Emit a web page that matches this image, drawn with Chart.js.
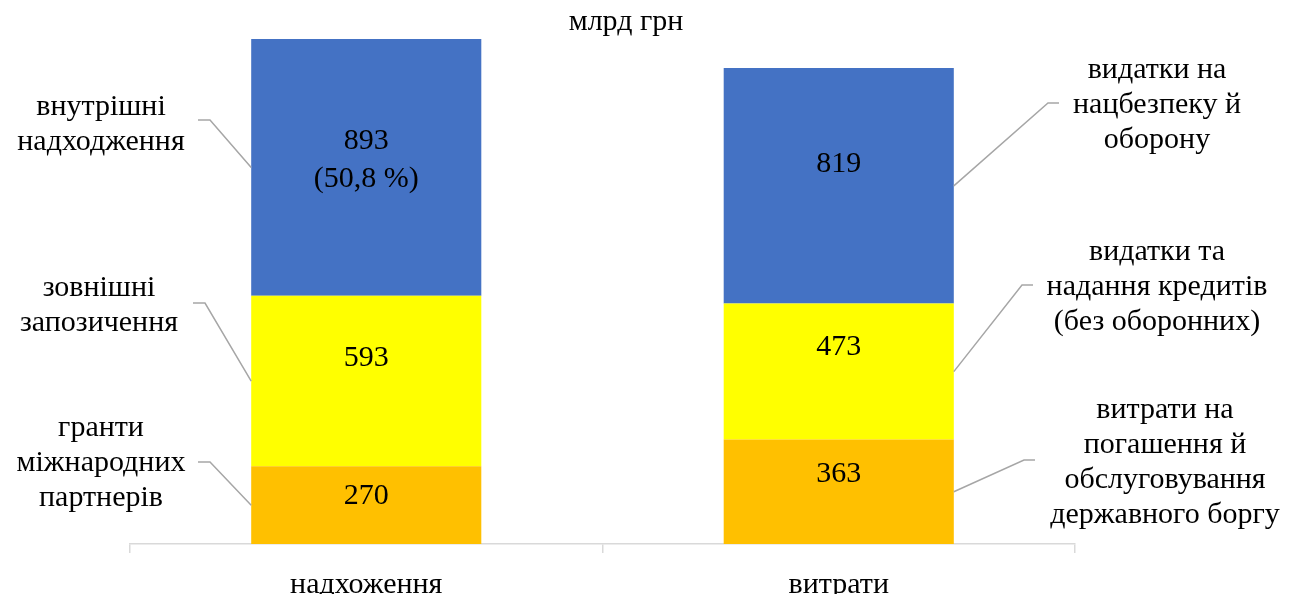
<!DOCTYPE html>
<html>
<head>
<meta charset="utf-8">
<script src="https://cdn.jsdelivr.net/npm/chart.js@4.4.1/dist/chart.umd.min.js"></script>
<style>
  html, body { margin: 0; padding: 0; overflow: hidden; background: #fff; }
  #wrap { position: relative; width: 1292px; height: 617px; }
</style>
</head>
<body>
<div id="wrap"><canvas id="budgetChart"></canvas></div>
<script>
// categories and values (bn UAH)
const categories = ['надхоження', 'витрати'];
const bottomValues = [270, 363];
const middleValues = [593, 473];
const topValues = [893, 819];
const topShare = ['(50,8 %)', ''];
const unitLabel = 'млрд грн';

// point labels: [left bar, right bar] per series, bottom -> top
const leftNames = [
  ['гранти', 'міжнародних', 'партнерів'],
  ['зовнішні', 'запозичення'],
  ['внутрішні', 'надходження']
];
const rightNames = [
  ['витрати на', 'погашення й', 'обслуговування', 'державного боргу'],
  ['видатки та', 'надання кредитів', '(без оборонних)'],
  ['видатки на', 'нацбезпеку й', 'оборону']
];

const FONT = '"Liberation Serif", "Times New Roman", serif';
const totals = categories.map((c, i) => bottomValues[i] + middleValues[i] + topValues[i]);

// text boxes for the callouts (first line centre y, box centre x, elbow of leader)
const leftBoxes = [
  { cx: 101, y: 428, ey: 462, ex: 198 },
  { cx: 99, y: 288, ey: 303, ex: 193 },
  { cx: 101, y: 107, ey: 120, ex: 198 }
];
const rightBoxes = [
  { cx: 1165, y: 410, ey: 460, ex: 1035 },
  { cx: 1157, y: 252, ey: 285, ex: 1033 },
  { cx: 1157, y: 70, ey: 103, ex: 1059 }
];
const valueNudge = [[-9, -18], [-23, -24], [-7, -22]];
const LINE_H = 35;

const labelsPlugin = {
  id: 'labels',
  afterDatasetsDraw(chart) {
    const ctx = chart.ctx;
    ctx.save();
    ctx.fillStyle = '#000';
    ctx.textAlign = 'center';
    ctx.textBaseline = 'middle';
    ctx.font = '30px ' + FONT;
    ctx.fillText(unitLabel, 626, 22);

    chart.data.datasets.forEach((ds, i) => {
      const meta = chart.getDatasetMeta(i);
      meta.data.forEach((bar, j) => {
        const p = bar.getProps(['x', 'y', 'base', 'width'], true);
        const mid = (p.y + p.base) / 2;
        // value inside the bar
        const lines = [String(ds.data[j])];
        if (i === 2 && topShare[j]) lines.push(topShare[j]);
        const cy = mid + valueNudge[i][j] - (lines.length - 1) * 38 / 2;
        lines.forEach((t, k) => ctx.fillText(t, p.x, cy + k * 38));

        // callout with leader line
        const left = j === 0;
        const box = left ? leftBoxes[i] : rightBoxes[i];
        const names = left ? leftNames[i] : rightNames[i];
        names.forEach((t, k) => ctx.fillText(t, box.cx, box.y + k * LINE_H));
        const ax = left ? p.x - p.width / 2 : p.x + p.width / 2;
        ctx.strokeStyle = '#a6a6a6';
        ctx.lineWidth = 1.5;
        ctx.beginPath();
        if (left) {
          ctx.moveTo(box.ex, box.ey);
          ctx.lineTo(box.ex + 12, box.ey);
          ctx.lineTo(ax, mid);
        } else {
          ctx.moveTo(ax, mid);
          ctx.lineTo(box.ex - 11, box.ey);
          ctx.lineTo(box.ex, box.ey);
        }
        ctx.stroke();
      });
    });
    ctx.restore();
  }
};

const ctx = document.getElementById('budgetChart').getContext('2d');
const budgetChart = new Chart(ctx, {
  type: 'bar',
  data: {
    labels: categories,
    datasets: [
      { data: bottomValues, backgroundColor: '#FFC000' },
      { data: middleValues, backgroundColor: '#FFFF00' },
      { data: topValues, backgroundColor: '#4472C4' }
    ]
  },
  options: {
    responsive: true,
    maintainAspectRatio: false,
    animation: false,
    layout: { padding: { left: 130, right: 217, top: 39, bottom: 0 } },
    plugins: { legend: { display: false }, tooltip: { enabled: false } },
    datasets: { bar: { barPercentage: 0.487, categoryPercentage: 1, borderWidth: 0 } },
    scales: {
      x: {
        stacked: true,
        grid: { offset: true, drawOnChartArea: false, color: '#d9d9d9', lineWidth: 1.5, tickLength: 9 },
        border: { color: '#d9d9d9', width: 1.5 },
        ticks: { color: '#000', padding: 14, font: { family: FONT, size: 30 } }
      },
      y: { stacked: true, display: false, min: 0, max: Math.max(...totals) }
    }
  },
  plugins: [labelsPlugin]
});
</script>
</body>
</html>
